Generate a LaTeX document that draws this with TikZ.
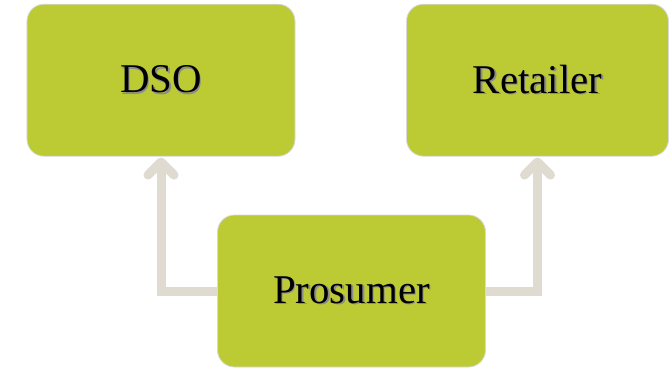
\documentclass[tikz,border=0pt]{standalone}
\usepackage{fontspec}
\setmainfont{Liberation Serif}
\usepackage{xcolor}
\usepackage{tikz}
\usetikzlibrary{arrows.meta}
\usetikzlibrary{shapes,positioning,calc}
\definecolor{boxgreen}{RGB}{188,203,51}
\definecolor{flowgray}{RGB}{224,219,209}
\newcommand{\shtext}[1]{\rlap{\kern1.5pt\raisebox{-1.5pt}{\color{black!45}#1}}#1}
\tikzset{
block/.style = {draw=black!15, line width=0.8bp, fill=boxgreen, rounded corners=17bp, minimum height=152bp, minimum width=268bp, font=\fontsize{41}{44}\selectfont},
flow/.style = {draw=flowgray, line width=9bp, -{Straight Barb[round, length=13bp, width=26bp]}, shorten >=1bp},
}
\begin{document}
\begin{tikzpicture}[x=1bp, y=1bp, node distance=58bp]
    \useasboundingbox (0,0) rectangle (669,368);
    \fill[white] (0,0) rectangle (669,368);
    \node [block] (prosumer) at (351.5,77) {\shtext{Prosumer}};
    \node [block, above=of prosumer, xshift=-190.5bp] (dso) {\shtext{DSO}};
    \node [block, above=of prosumer, xshift=186bp, minimum width=262bp] (retailer) {\shtext{Retailer}};

    \draw [flow] (prosumer.west) -| (dso.south);
    \draw [flow] (prosumer.east) -| (retailer.south);
\end{tikzpicture}
\end{document}
